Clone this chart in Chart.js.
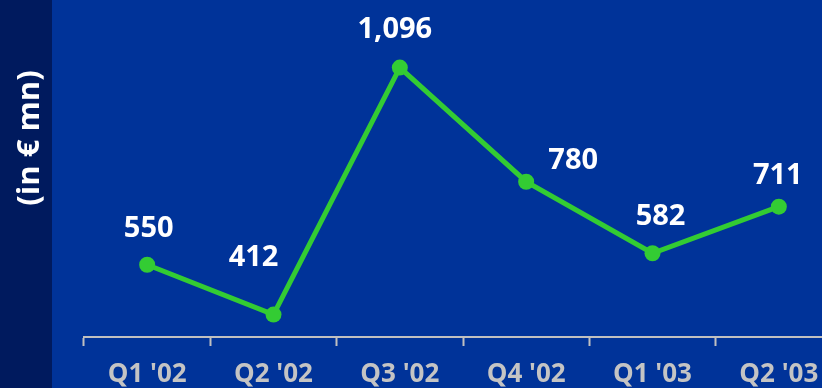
<!DOCTYPE html>
<html>
<head>
<meta charset="utf-8">
<script src="https://cdn.jsdelivr.net/npm/chart.js@4/dist/chart.umd.min.js"></script>
<style>
  html, body { margin: 0; padding: 0; overflow: hidden; background: #003399; }
  #wrap { width: 822px; height: 388px; overflow: hidden; position: relative; }
  canvas { display: block; }
</style>
</head>
<body>
<div id="wrap"><canvas id="c" width="850" height="388"></canvas></div>
<script>
// Quarterly values, in € mn
const quarters = ["Q1 '02", "Q2 '02", "Q3 '02", "Q4 '02", "Q1 '03", "Q2 '03"];
const values = [550, 412, 1096, 780, 582, 711];
const axisTitle = "(in € mn)";

// Where each value label sits relative to its point (x shift, baseline shift)
const labelShift = [[1.5, -28], [-20, -49], [-5, -30], [47, -12.5], [8, -28.5], [-1, -22.5]];

const FONT = "'Open Sans', 'DejaVu Sans', sans-serif";

// Dark strip on the left carrying the rotated unit caption
const sideStrip = {
  id: 'sideStrip',
  beforeDraw(chart) {
    const ctx = chart.ctx;
    ctx.save();
    ctx.fillStyle = '#001a5e';
    ctx.fillRect(0, 0, 52, chart.height);
    ctx.translate(30, 138);
    ctx.rotate(-Math.PI / 2);
    ctx.fillStyle = '#ffffff';
    ctx.font = "bold 31px " + FONT;
    ctx.textAlign = 'center';
    ctx.textBaseline = 'middle';
    ctx.fillText(axisTitle, 0, 0);
    ctx.restore();
  }
};

// Value labels drawn next to each point
const valueLabels = {
  id: 'valueLabels',
  afterDatasetsDraw(chart) {
    const ctx = chart.ctx;
    const meta = chart.getDatasetMeta(0);
    ctx.save();
    ctx.fillStyle = '#ffffff';
    ctx.font = "bold 29px " + FONT;
    ctx.textAlign = 'center';
    ctx.textBaseline = 'alphabetic';
    meta.data.forEach((pt, i) => {
      const v = chart.data.datasets[0].data[i];
      const s = labelShift[i];
      ctx.fillText(v.toLocaleString('en-US'), pt.x + s[0], pt.y + s[1]);
    });
    ctx.restore();
  }
};

new Chart(document.getElementById('c'), {
  type: 'line',
  data: {
    labels: quarters,
    datasets: [{
      data: values,
      borderColor: '#33cc33',
      backgroundColor: '#33cc33',
      borderWidth: 5,
      pointRadius: 8,
      pointBorderWidth: 0,
      pointBackgroundColor: '#33cc33',
      tension: 0,
      clip: false
    }]
  },
  options: {
    responsive: false,
    animation: false,
    events: [],
    layout: { padding: { left: 84, right: 7, top: 12, bottom: 0 } },
    plugins: { legend: { display: false }, tooltip: { enabled: false } },
    scales: {
      x: {
        offset: true,
        afterFit(scale) { scale.height = 51; },
        grid: {
          display: true,
          offset: true,
          drawOnChartArea: false,
          drawTicks: true,
          tickLength: 9,
          tickWidth: 2,
          tickColor: '#c0c0c0'
        },
        border: { display: true, color: '#c0c0c0', width: 2 },
        ticks: {
          color: '#c4c4c4',
          padding: 13,
          maxRotation: 0,
          autoSkip: false,
          font: { family: FONT, size: 26, weight: 'bold' }
        }
      },
      y: {
        display: false,
        min: 350,
        max: 1250
      }
    }
  },
  plugins: [sideStrip, valueLabels]
});
</script>
</body>
</html>
